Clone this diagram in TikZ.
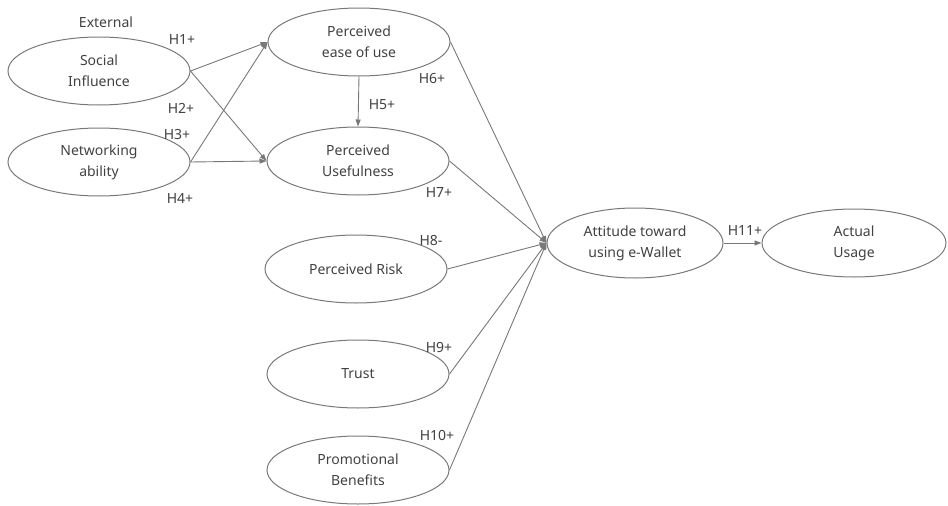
\documentclass[tikz,border=0pt]{standalone}
\usepackage{fontspec}
\setmainfont{Noto Sans}
\usetikzlibrary{shapes.geometric,arrows.meta}

\definecolor{linegray}{RGB}{120,120,120}
\definecolor{textgray}{RGB}{65,65,65}

\tikzset{
  construct/.style={ellipse, draw=linegray, line width=1pt, minimum width=182pt, minimum height=68pt,
    inner sep=0pt, align=center, text=textgray, font=\fontsize{14}{21}\selectfont},
  link/.style={draw=linegray, line width=0.9pt, -{Triangle[length=7pt,width=5pt]}},
  hyp/.style={text=textgray, inner sep=0pt, font=\fontsize{14}{16}\selectfont},
}

\begin{document}
\begin{tikzpicture}[x=1pt,y=-1pt]
        \useasboundingbox (0,0) rectangle (948,506);

        % Constructs.
        \node[construct] (si) at (99,71) {Social\\Influence};
        \node[construct] (na) at (99,162) {Networking\\ability};
        \node[construct] (peou) at (359,42) {Perceived\\ease of use};
        \node[construct] (pu) at (358,161) {Perceived\\Usefulness};
        \node[construct] (pr) at (356,269) {Perceived Risk};
        \node[construct] (tr) at (358,374) {Trust};
        \node[construct] (pb) at (358,470) {Promotional\\Benefits};
        \node[construct, minimum width=176pt, minimum height=70pt] (att) at (635,243) {Attitude toward\\using e-Wallet};
        \node[construct, minimum width=184pt] (au) at (854,243) {Actual\\Usage};

        % External factors.
        \node[hyp] (ext) at (106,22) {External};
        \draw[link] (si.east) -- (peou.west);
        \draw[link] (si.east) -- (pu.west);
        \draw[link] (na.east) -- (peou.west);
        \draw[link] (na.east) -- (pu.west);
        \node[hyp] (h1) at (182,40) {H1+};
        \node[hyp] (h2) at (181,108) {H2+};
        \node[hyp] (h3) at (177,135) {H3+};
        \node[hyp] (h4) at (180,198) {H4+};

        % TAM.
        \draw[link] (peou.south) -- (pu.north);
        \node[hyp] (h5) at (382,105) {H5+};
        \draw[link] (peou.east) -- (att.west);
        \node[hyp] (h6) at (432,79) {H6+};
        \draw[link] (pu.east) -- (att.west);
        \node[hyp] (h7) at (439,192) {H7+};

        % Other factors.
        \draw[link] (pr.east) -- (att.west);
        \node[hyp] (h8) at (431,240) {H8-};
        \draw[link] (tr.east) -- (att.west);
        \node[hyp] (h9) at (439,347) {H9+};
        \draw[link] (pb.east) -- (att.west);
        \node[hyp] (h10) at (437,435) {H10+};

        % Usage.
        \draw[link] (att.east) -- (au.west);
        \node[hyp] (h11) at (745,230) {H11+};
\end{tikzpicture}
\end{document}
